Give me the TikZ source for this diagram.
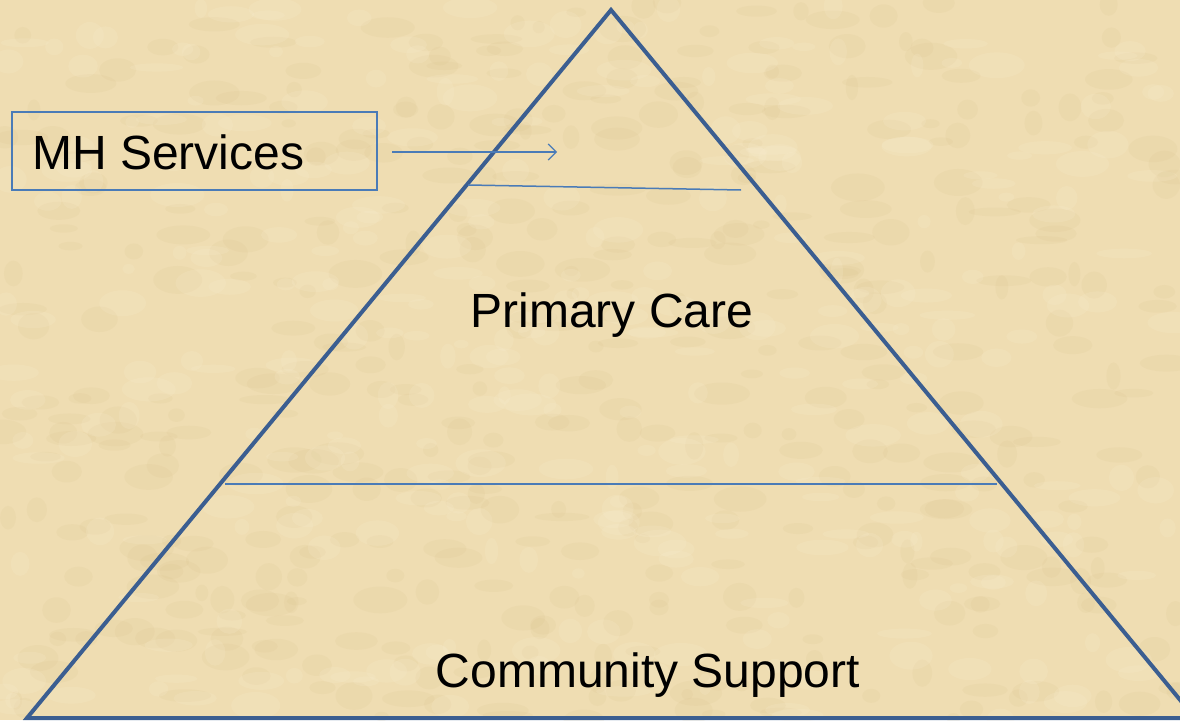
\documentclass[tikz,border=0pt]{standalone}
\usepackage{fontspec}
\setmainfont{Liberation Sans}
\usetikzlibrary{arrows.meta}
\begin{document}
\begin{tikzpicture}[x=1pt,y=-1pt,
  tri/.style={draw=triblue,line width=4pt,line join=miter},
  thin/.style={draw=lineblue,line width=1.5pt},
  lbl/.style={font=\fontsize{48}{56}\selectfont,text=black,inner sep=0pt}]
\definecolor{bg}{HTML}{EFDDB2}
\definecolor{patchc}{HTML}{D6BD86}
\definecolor{patchl}{HTML}{FAEFD2}
\definecolor{triblue}{HTML}{3B5E91}
\definecolor{lineblue}{HTML}{4A7BB7}
\useasboundingbox (0,0) rectangle (1180,720);
\clip (0,0) rectangle (1180,720);
\fill[bg] (0,0) rectangle (1180,720);
% parchment texture
\pgfmathsetseed{7}
\foreach \i in {1,...,450}{
  \pgfmathsetmacro{\px}{rnd*1180}
  \pgfmathsetmacro{\py}{rnd*720}
  \pgfmathsetmacro{\rx}{6+rnd*22}
  \pgfmathsetmacro{\ry}{4+rnd*10}
  \fill[patchc,opacity=0.12] (\px,\py) ellipse [x radius=\rx, y radius=\ry];
}
\foreach \i in {1,...,350}{
  \pgfmathsetmacro{\px}{rnd*1180}
  \pgfmathsetmacro{\py}{rnd*720}
  \pgfmathsetmacro{\rx}{6+rnd*22}
  \pgfmathsetmacro{\ry}{4+rnd*10}
  \fill[patchl,opacity=0.18] (\px,\py) ellipse [x radius=\rx, y radius=\ry];
}
% pyramid
\coordinate (apex) at (611,10);
\coordinate (bl) at (27,718);
\coordinate (br) at (1195,718);
\draw[tri] (bl) -- (apex) -- (br) -- cycle;
\coordinate (u1) at (468,185);
\coordinate (u2) at (741,190);
\draw[thin] (u1) -- (u2);
\coordinate (m1) at (225,484);
\coordinate (m2) at (997,484);
\draw[thin] (m1) -- (m2);
% labels
\node[draw=lineblue,line width=1.5pt,minimum width=365pt,minimum height=78pt,inner sep=0pt] (box) at (194.5,151) {};
\node[lbl,anchor=base west] (mh) at (32,169) {MH Services};
\node[lbl,anchor=base] (pc) at (612,327) {Primary Care};
\node[lbl,anchor=base] (cs) at (648,687) {Community Support};
\coordinate (arrS) at (392,152);
\coordinate (arrE) at (557,152);
\draw[thin,line width=1.2pt,-{Straight Barb[length=8pt,width=16pt]}] (arrS) -- (arrE);
\end{tikzpicture}
\end{document}
